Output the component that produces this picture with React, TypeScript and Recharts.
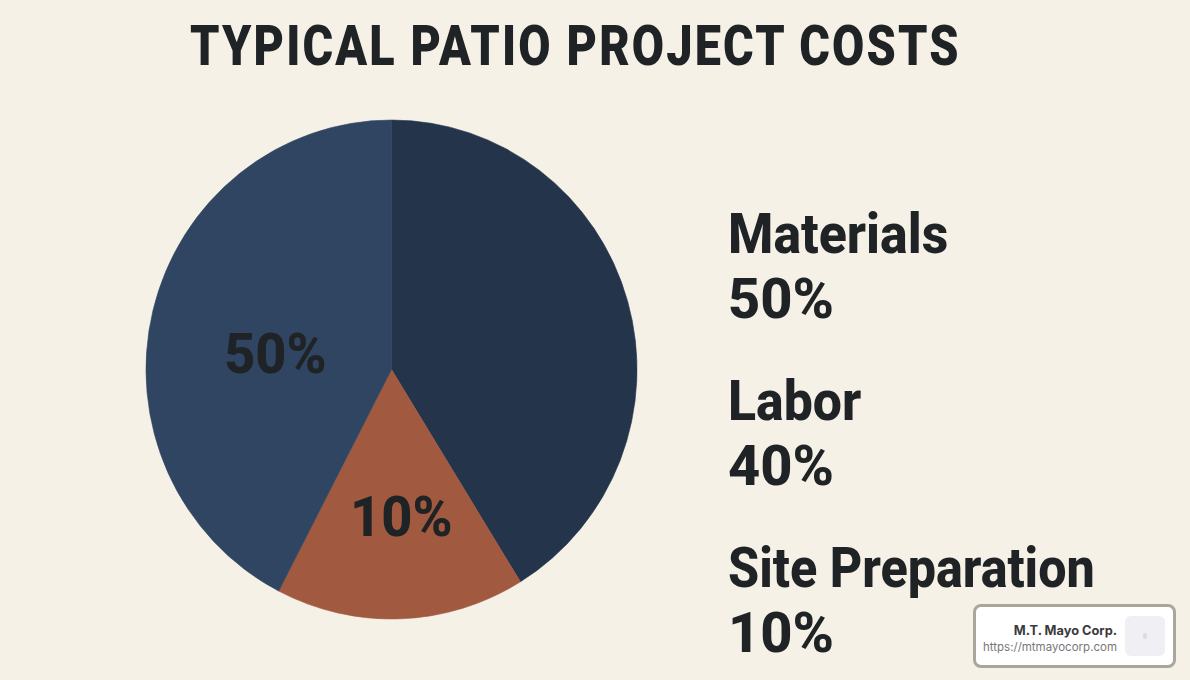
import type { ReactNode } from 'react';
import { PieChart, Pie, Cell } from 'recharts';

const categories = ['Labor', 'Site Preparation', 'Materials'];
// slice sizes as drawn in the picture (they do not follow the printed labels)
const sliceValues = [41.2, 16.4, 42.4];
const sliceLabels = ['', '10%', '50%'];
const sliceColors = ['#23344b', '#a15a40', '#2f4562'];

const legendNames = ['Materials', 'Labor', 'Site Preparation'];
const legendValues = ['50%', '40%', '10%'];
const legendSqueeze = [0.925, 0.925, 0.897];

const chartData = categories.map((name, i) => ({ name, value: sliceValues[i] }));

const INK = '#1f2326';
const FONT = 'Roboto, sans-serif';

// no condensed face is installed, so squeeze the bold one
function Squeezed({ scale, children }: { scale: number; children: ReactNode }) {
  return (
    <div style={{ transform: `scaleX(${scale})`, transformOrigin: 'left center', whiteSpace: 'nowrap' }}>{children}</div>
  );
}

function SliceLabel(props: any) {
  const { cx, cy, index } = props;
  const text = sliceLabels[index];
  if (!text) return null;
  // hand placed, the labels are not on the slice centre lines
  const dx = index === 1 ? 10 : -118;
  const dy = index === 1 ? 147 : -16;
  return (
    <text
      x={cx + dx}
      y={cy + dy}
      textAnchor="middle"
      dominantBaseline="central"
      fontFamily={FONT}
      fontWeight={800}
      fontSize={55}
      fill={INK}
    >
      {text}
    </text>
  );
}

export default function App() {
  return (
    <div
      style={{
        position: 'absolute',
        left: 0,
        top: 0,
        width: 1190,
        height: 680,
        background: '#f5f1e7',
        overflow: 'hidden',
        fontFamily: FONT,
        color: INK,
      }}
    >
      <div
        style={{
          position: 'absolute',
          left: 190,
          top: 15,
          fontSize: 55,
          lineHeight: '62px',
          fontWeight: 900,
          letterSpacing: 2.5,
        }}
      >
        <Squeezed scale={0.851}>TYPICAL PATIO PROJECT COSTS</Squeezed>
      </div>

      {/* the reference pie is a touch narrower than tall */}
      <div style={{ position: 'absolute', left: 0, top: 0, transform: 'scaleX(0.984)', transformOrigin: '391.5px 369.5px' }}>
        <PieChart width={1190} height={680} margin={{ top: 0, right: 0, bottom: 0, left: 0 }}>
          <Pie
            data={chartData}
            dataKey="value"
            nameKey="name"
            cx={391.5}
            cy={369.5}
            outerRadius={249.5}
            startAngle={90}
            endAngle={-270}
            labelLine={false}
            label={SliceLabel}
            isAnimationActive={false}
          >
            {chartData.map((entry, index) => (
              <Cell key={`cell-${index}`} fill={sliceColors[index]} stroke={sliceColors[index]} strokeWidth={0.6} />
            ))}
          </Pie>
        </PieChart>
      </div>

      <div style={{ position: 'absolute', left: 728, top: 201 }}>
        {legendNames.map((name, i) => (
          <div key={name} style={{ height: 167, fontSize: 56, lineHeight: '66px', fontWeight: 800 }}>
            <Squeezed scale={legendSqueeze[i]}>{name}</Squeezed>
            <div style={{ marginTop: -1 }}>
              <Squeezed scale={1}>{legendValues[i]}</Squeezed>
            </div>
          </div>
        ))}
      </div>

      <div
        style={{
          position: 'absolute',
          left: 973,
          top: 604,
          width: 203,
          height: 64,
          boxSizing: 'border-box',
          border: '3px solid #aaa69b',
          borderRadius: 8,
          background: '#ffffff',
        }}
      >
        <div
          style={{
            position: 'absolute',
            right: 56,
            top: 15,
            textAlign: 'right',
            fontFamily: 'Inter, sans-serif',
            whiteSpace: 'nowrap',
          }}
        >
          <div style={{ fontSize: 12.8, lineHeight: '17px', fontWeight: 700, color: '#3a3a3c' }}>M.T. Mayo Corp.</div>
          <div style={{ fontSize: 11.5, lineHeight: '16px', color: '#77777b' }}>https://mtmayocorp.com</div>
        </div>
        <div
          style={{
            position: 'absolute',
            left: 149,
            top: 9,
            width: 40,
            height: 40,
            borderRadius: 6,
            background: '#efeff4',
          }}
        >
          <div
            style={{
              position: 'absolute',
              left: 18,
              top: 17,
              width: 4,
              height: 6,
              borderRadius: 2,
              background: '#dcdce0',
            }}
          />
        </div>
      </div>
    </div>
  );
}
